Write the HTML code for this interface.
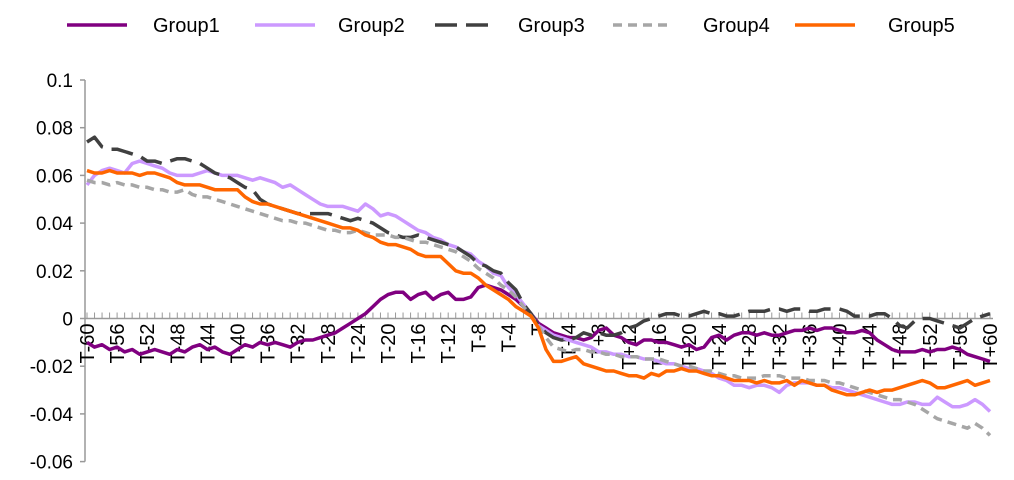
<!DOCTYPE html>
<html><head><meta charset="utf-8"><style>
body{margin:0;background:#fff;font-family:"Liberation Sans",sans-serif}
svg{display:block}
</style></head><body>
<svg id="chart" width="1014" height="480" xmlns="http://www.w3.org/2000/svg">
<g id="legend"></g>
<g id="axes"></g>
<g id="series"></g>
</svg>
<script>
const seriesNames=["Group1","Group2","Group3","Group4","Group5"];
const yTicks=[0.1,0.08,0.06,0.04,0.02,0,-0.02,-0.04,-0.06];
const yTickLabels=["0.1","0.08","0.06","0.04","0.02","0","-0.02","-0.04","-0.06"];
const group1=[-0.010,-0.012,-0.011,-0.013,-0.012,-0.014,-0.013,-0.015,-0.014,-0.013,
-0.014,-0.015,-0.013,-0.014,-0.012,-0.011,-0.013,-0.012,-0.014,-0.015,
-0.013,-0.011,-0.012,-0.010,-0.011,-0.010,-0.011,-0.012,-0.010,-0.009,
-0.009,-0.008,-0.007,-0.006,-0.004,-0.002,0.000,0.002,0.005,0.008,
0.010,0.011,0.011,0.008,0.010,0.011,0.008,0.010,0.011,0.008,
0.008,0.009,0.013,0.014,0.013,0.012,0.010,0.008,0.005,0.002,
-0.002,-0.004,-0.006,-0.007,-0.008,-0.008,-0.009,-0.008,-0.005,-0.004,
-0.007,-0.008,-0.010,-0.011,-0.009,-0.009,-0.010,-0.010,-0.011,-0.012,
-0.011,-0.013,-0.012,-0.008,-0.007,-0.009,-0.007,-0.006,-0.006,-0.007,
-0.006,-0.007,-0.007,-0.006,-0.005,-0.005,-0.004,-0.005,-0.004,-0.004,
-0.005,-0.006,-0.006,-0.005,-0.006,-0.009,-0.011,-0.013,-0.014,-0.014,
-0.014,-0.013,-0.014,-0.013,-0.013,-0.012,-0.013,-0.015,-0.016,-0.017,-0.018];
const group2=[0.056,0.060,0.062,0.063,0.062,0.061,0.065,0.066,0.065,0.064,
0.063,0.061,0.060,0.060,0.060,0.061,0.062,0.061,0.060,0.060,
0.060,0.059,0.058,0.059,0.058,0.057,0.055,0.056,0.054,0.052,
0.050,0.048,0.047,0.047,0.047,0.046,0.045,0.048,0.046,0.043,
0.044,0.043,0.041,0.039,0.037,0.036,0.034,0.033,0.031,0.030,
0.028,0.027,0.024,0.022,0.019,0.018,0.013,0.010,0.006,0.002,
-0.003,-0.005,-0.007,-0.008,-0.009,-0.010,-0.011,-0.012,-0.014,-0.014,
-0.015,-0.015,-0.016,-0.016,-0.017,-0.017,-0.018,-0.019,-0.019,-0.020,
-0.021,-0.021,-0.022,-0.023,-0.025,-0.026,-0.028,-0.028,-0.029,-0.028,
-0.028,-0.029,-0.031,-0.028,-0.027,-0.027,-0.027,-0.028,-0.028,-0.029,
-0.029,-0.030,-0.031,-0.032,-0.033,-0.034,-0.035,-0.036,-0.036,-0.035,
-0.035,-0.036,-0.036,-0.033,-0.035,-0.037,-0.037,-0.036,-0.034,-0.036,-0.039];
const group3=[0.074,0.076,0.072,0.071,0.071,0.070,0.069,0.068,0.066,0.066,
0.065,0.066,0.067,0.067,0.066,0.065,0.063,0.061,0.060,0.059,
0.057,0.055,0.054,0.050,0.048,0.047,0.046,0.045,0.044,0.044,
0.044,0.044,0.044,0.043,0.042,0.041,0.042,0.041,0.040,0.038,
0.036,0.035,0.034,0.034,0.035,0.034,0.033,0.032,0.031,0.030,
0.028,0.026,0.023,0.022,0.020,0.019,0.015,0.012,0.006,0.002,
-0.003,-0.006,-0.008,-0.009,-0.009,-0.008,-0.006,-0.007,-0.006,-0.007,
-0.007,-0.006,-0.004,-0.003,-0.001,0.000,0.001,0.002,0.002,0.001,
0.001,0.002,0.003,0.002,0.002,0.001,0.001,0.002,0.003,0.003,
0.003,0.004,0.004,0.003,0.004,0.004,0.003,0.003,0.004,0.004,
0.004,0.003,0.001,0.001,0.001,0.002,0.002,0.000,-0.003,-0.004,
-0.001,0.000,0.000,-0.001,-0.002,-0.003,-0.004,-0.002,0.000,0.001,0.002];
const group4=[0.058,0.057,0.057,0.056,0.057,0.056,0.056,0.055,0.055,0.054,
0.054,0.053,0.053,0.054,0.052,0.051,0.051,0.050,0.049,0.048,
0.047,0.046,0.045,0.044,0.043,0.042,0.041,0.041,0.040,0.040,
0.039,0.038,0.037,0.037,0.036,0.036,0.037,0.036,0.035,0.035,
0.035,0.034,0.034,0.033,0.032,0.032,0.031,0.030,0.029,0.028,
0.026,0.024,0.021,0.019,0.017,0.014,0.012,0.009,0.005,0.001,
-0.003,-0.008,-0.012,-0.013,-0.014,-0.013,-0.013,-0.014,-0.014,-0.015,
-0.015,-0.016,-0.016,-0.016,-0.017,-0.017,-0.017,-0.018,-0.019,-0.020,
-0.020,-0.021,-0.022,-0.022,-0.023,-0.024,-0.024,-0.025,-0.025,-0.025,
-0.024,-0.024,-0.024,-0.025,-0.025,-0.025,-0.026,-0.026,-0.026,-0.027,
-0.027,-0.028,-0.029,-0.030,-0.031,-0.032,-0.033,-0.034,-0.034,-0.035,
-0.036,-0.038,-0.040,-0.042,-0.043,-0.044,-0.045,-0.046,-0.044,-0.046,-0.049];
const group5=[0.062,0.061,0.061,0.062,0.061,0.061,0.061,0.060,0.061,0.061,
0.060,0.059,0.057,0.056,0.056,0.056,0.055,0.054,0.054,0.054,
0.054,0.051,0.049,0.048,0.048,0.047,0.046,0.045,0.044,0.043,
0.042,0.041,0.040,0.039,0.038,0.038,0.037,0.035,0.034,0.032,
0.031,0.031,0.030,0.029,0.027,0.026,0.026,0.026,0.023,0.020,
0.019,0.019,0.017,0.014,0.012,0.010,0.008,0.005,0.003,0.001,
-0.004,-0.013,-0.018,-0.018,-0.017,-0.016,-0.019,-0.020,-0.021,-0.022,
-0.022,-0.023,-0.024,-0.024,-0.025,-0.023,-0.024,-0.022,-0.022,-0.021,
-0.022,-0.022,-0.023,-0.024,-0.024,-0.025,-0.026,-0.026,-0.026,-0.027,
-0.026,-0.027,-0.027,-0.026,-0.028,-0.026,-0.027,-0.028,-0.028,-0.030,
-0.031,-0.032,-0.032,-0.031,-0.030,-0.031,-0.030,-0.030,-0.029,-0.028,
-0.027,-0.026,-0.027,-0.029,-0.029,-0.028,-0.027,-0.026,-0.028,-0.027,-0.026];
const categories=[];for(let k=-60;k<=60;k++)categories.push(k<0?"T"+k:(k===0?"T":"T+"+k));

const NS="http://www.w3.org/2000/svg";
const X0=87,X1=990,Y0=318.5,PX=2385;
const xPos=i=>X0+(X1-X0)*i/(categories.length-1);
const yPos=v=>Y0-v*PX;
function mk(t,a,p){const e=document.createElementNS(NS,t);for(const k in a)e.setAttribute(k,a[k]);p.appendChild(e);return e;}
const axes=document.getElementById('axes');
const yl=mk('line',{x1:85,y1:yPos(0.1),x2:85,y2:yPos(-0.06),stroke:'#999','stroke-width':1.5},axes);


yTicks.forEach((v,i)=>{
 mk('line',{x1:80,y1:yPos(v),x2:85,y2:yPos(v),stroke:'#999','stroke-width':1.5},axes);
 const t=mk('text',{x:73,y:yPos(v)+7,'text-anchor':'end','font-size':19,fill:'#000'},axes);
 t.textContent=yTickLabels[i];
 
 
});
const xl=mk('line',{x1:85,y1:Y0,x2:X1+3,y2:Y0,stroke:'#999','stroke-width':1.5},axes);


categories.forEach((c,i)=>{
 const x=xPos(i);
 mk('line',{x1:x,y1:Y0,x2:x,y2:Y0-6,stroke:'#999','stroke-width':1},axes);
 if(i%4===0){
  const t=mk('text',{x:x+7,y:Y0+5,'text-anchor':'end','font-size':20,fill:'#000',transform:`rotate(-90 ${x+7} ${Y0+5})`},axes);
  t.textContent=c;
  
  
 }
});
const data=[group1,group2,group3,group4,group5];
const colors=['#800080','#cc99ff','#404040','#a6a6a6','#ff6600'];
const dashes=['none','none','22 9','9 6','none'];
const ser=document.getElementById('series');
data.forEach((arr,s)=>{
 const d=arr.map((v,i)=>(i?'L':'M')+xPos(i).toFixed(1)+' '+yPos(v).toFixed(1)).join(' ');
 const p=mk('path',{d:d,fill:'none',stroke:colors[s],'stroke-width':3.5,'stroke-dasharray':dashes[s],'stroke-linejoin':'round'},ser);
 
 
});
const leg=document.getElementById('legend');
const lx=[67,255,435,613,795];
const tx=[153,338,518,703,888];
seriesNames.forEach((n,s)=>{
 const g=mk('g',{},leg);
 
 
 mk('line',{x1:lx[s],y1:25,x2:lx[s]+60,y2:25,stroke:colors[s],'stroke-width':3.5,'stroke-dasharray':dashes[s]},g);
 const t=mk('text',{x:tx[s],y:32,'font-size':20,fill:'#000'},g);
 t.textContent=n;
});
</script>
</body></html>
